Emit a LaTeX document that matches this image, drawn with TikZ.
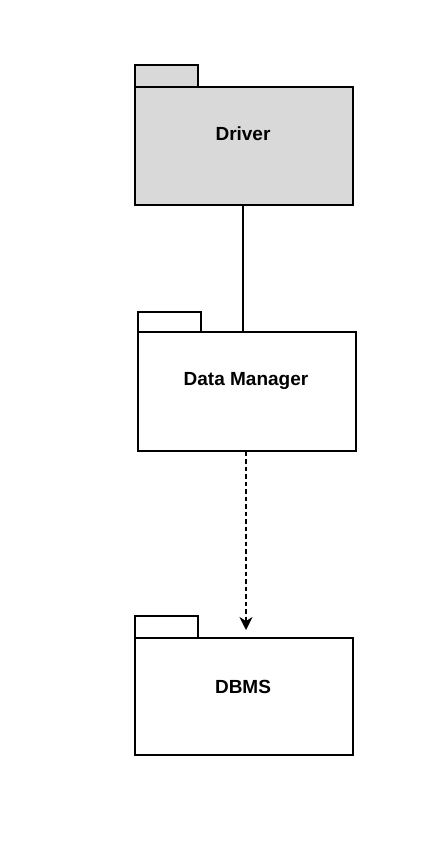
\documentclass[tikz,border=0pt]{standalone}
\usepackage{fontspec}
\setmainfont{Liberation Sans}
\usetikzlibrary{arrows.meta}
\begin{document}
\begin{tikzpicture}[x=1pt,y=-1pt,
  pkgbody/.style={draw=black, line width=1.6pt, minimum width=218pt, inner sep=0pt},
  pkglabel/.style={font=\fontsize{19}{23}\selectfont\bfseries, inner sep=0pt},
  pkgtab/.style={draw=black, line width=1.6pt, minimum width=63pt, inner sep=0pt},
  conn/.style={line width=1.6pt}]
\useasboundingbox (0,0) rectangle (434,850);
% Driver
\node[pkgtab, fill=gray!30, minimum height=22pt, anchor=north west] (drvtab) at (134,64) {};
\node[pkgbody, fill=gray!30, minimum height=118pt, anchor=north west] (drv) at (134,86) {};
\node[pkglabel] (drvtxt) at (243,134) {Driver};
% Data Manager
\node[pkgtab, minimum height=20pt, anchor=north west] (dmtab) at (137,311) {};
\node[pkgbody, fill=white, minimum height=119pt, anchor=north west] (dm) at (137,331) {};
\node[pkglabel] (dmtxt) at (246,381) {Data Manager};
% DBMS
\node[pkgtab, minimum height=22pt, anchor=north west] (dbtab) at (134,615) {};
\node[pkgbody, fill=white, minimum height=117pt, anchor=north west] (db) at (134,637) {};
\node[pkglabel] (dbtxt) at (243,687) {DBMS};
% connectors
\draw[conn] (drv.south -| 243,0) -- (dm.north -| 243,0);
\coordinate (tip) at (246,630);
\draw[conn, dash pattern=on 4.5pt off 3pt, -{Stealth[length=13pt,width=13pt,inset=4pt]}] (dm.south -| 246,0) -- (tip);
\end{tikzpicture}
\end{document}
